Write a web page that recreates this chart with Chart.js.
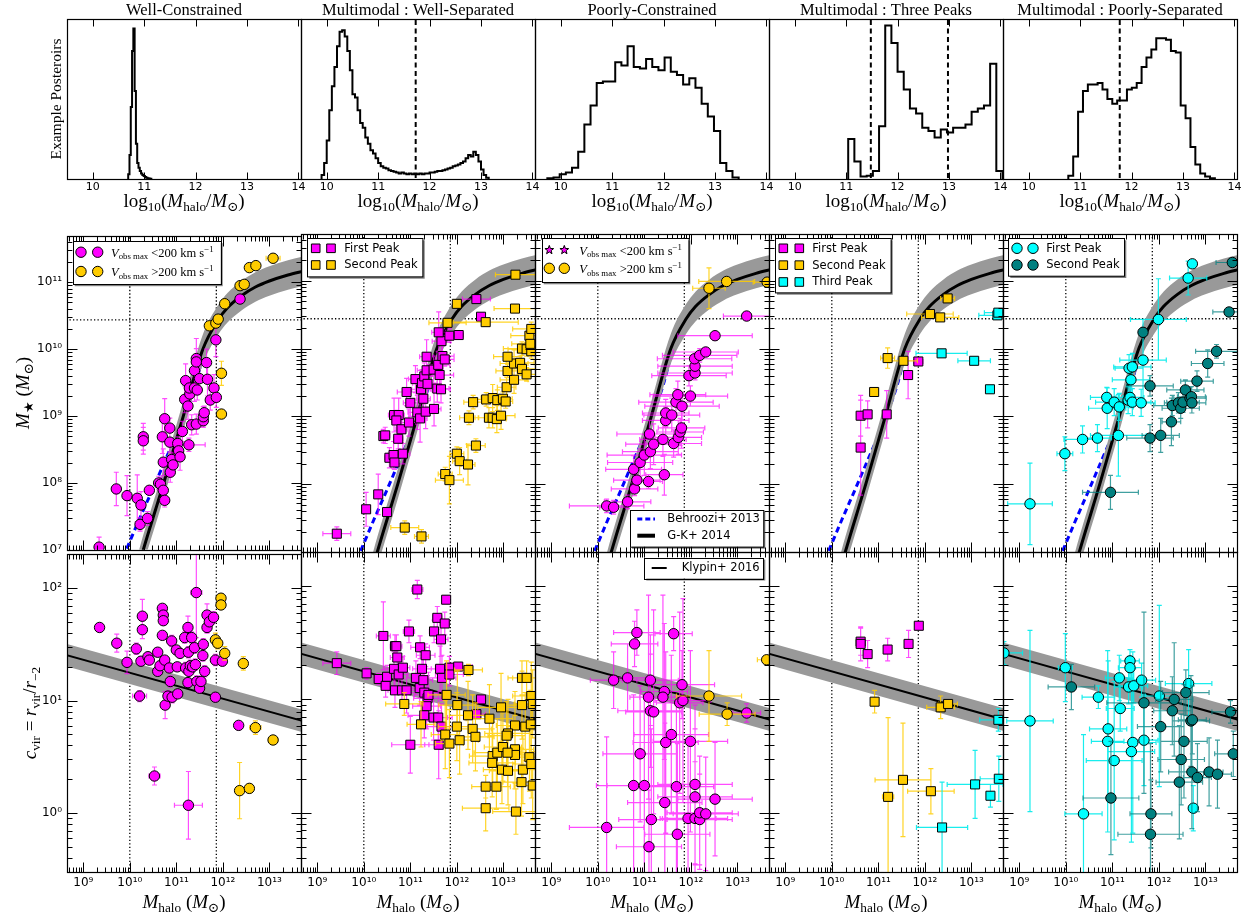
<!DOCTYPE html>
<html>
<head>
<meta charset="utf-8">
<title>Halo mass posteriors</title>
<script src="https://cdn.jsdelivr.net/npm/chart.js@4/dist/chart.umd.min.js"></script>
<style>
  body { margin: 0; background: #fff; }
  #wrap { position: relative; width: 1249px; height: 920px; overflow: hidden; }
  canvas { position: absolute; }
</style>
</head>
<body>
<div id="wrap"></div>
<script>
// ---------- top row: example posteriors (bin start, bin width, height as fraction of panel) ----------
const histWellStart = 10.69, histWellWidth = 0.025;
const histWell = [0.03, 0.15, 0.45, 0.8, 0.94, 0.55, 0.22, 0.1, 0.07, 0.05, 0.035, 0.025, 0.018, 0.012, 0.008, 0.005, 0.003, 0.002];
const histSepStart = 9.9, histSepWidth = 0.05;
const histSep = [0.025, 0.1, 0.24, 0.43, 0.58, 0.7, 0.83, 0.92, 0.93, 0.89, 0.8, 0.68, 0.53, 0.51, 0.43, 0.35, 0.32, 0.26, 0.22, 0.18,
  0.16, 0.13, 0.1, 0.08, 0.07, 0.065, 0.055, 0.05, 0.045, 0.04, 0.035, 0.04, 0.035, 0.03, 0.035, 0.03, 0.035, 0.03, 0.035, 0.03,
  0.035, 0.035, 0.04, 0.04, 0.045, 0.05, 0.05, 0.055, 0.06, 0.065, 0.07, 0.08, 0.085, 0.09, 0.1, 0.11, 0.13, 0.15, 0.14, 0.17,
  0.15, 0.11, 0.06, 0.025, 0.008];
const histPoorStart = 9.74, histPoorWidth = 0.12;
const histPoor = [0.005, 0.01, 0.03, 0.04, 0.07, 0.17, 0.34, 0.46, 0.6, 0.61, 0.61, 0.73, 0.71, 0.83, 0.7, 0.69, 0.75, 0.7, 0.68, 0.76,
  0.67, 0.65, 0.59, 0.63, 0.57, 0.47, 0.39, 0.3, 0.1, 0.05, 0.01];
const histThreeStart = 11.04, histThreeWidth = 0.12;
const histThree = [0.25, 0.11, 0.015, 0.02, 0.05, 0.33, 0.96, 0.85, 0.67, 0.56, 0.44, 0.41, 0.32, 0.3, 0.26, 0.31, 0.29, 0.32, 0.32, 0.34,
  0.42, 0.44, 0.46, 0.72, 0.05];
const histBlendStart = 10.77, histBlendWidth = 0.095;
const histBlend = [0.02, 0.14, 0.42, 0.55, 0.59, 0.59, 0.6, 0.56, 0.5, 0.47, 0.49, 0.49, 0.56, 0.57, 0.6, 0.7, 0.76, 0.81, 0.88, 0.88,
  0.87, 0.8, 0.79, 0.46, 0.38, 0.2, 0.09, 0.035, 0.015, 0.004];
const peakCutsSep = [11.73];
const peakCutsThree = [11.48, 12.98];
const peakCutsBlend = [11.77];
const topTicks = [10, 11, 12, 13, 14];

// ---------- reference relations (log10 values) ----------
const gkMh = [10.05, 10.29, 10.73, 11.15, 11.57, 11.9, 12.1, 12.4, 12.7, 13.0, 13.4, 13.75];
const gkMs = [6.4, 7.0, 8.0, 9.0, 10.0, 10.44, 10.62, 10.8, 10.93, 11.02, 11.11, 11.17];
const gkHi = [6.62, 7.22, 8.22, 9.22, 10.22, 10.66, 10.84, 11.02, 11.15, 11.24, 11.33, 11.39];
const gkLo = [6.18, 6.78, 7.78, 8.78, 9.78, 10.22, 10.4, 10.58, 10.71, 10.8, 10.89, 10.95];
const b13Mh = [9.85, 10.2, 10.5, 10.8, 11.1, 11.4, 11.6, 11.9, 12.3, 13.0, 13.75];
const b13Ms = [6.88, 7.45, 7.92, 8.4, 8.88, 9.45, 9.95, 10.42, 10.72, 11.0, 11.16];
const klMh = [8.5, 13.8];
const klC = [1.42, 0.81];
const klHi = [1.52, 0.91];
const klLo = [1.32, 0.71];
const cutMh = [10, 11.86];
const cutMs = 10.44;

// ---------- galaxies: [log Mhalo, log value, x error (dex), y error (dex)] ----------
const wellMsSlow = [
  [9.34,7.04,0,0.15],[9.71,7.91,0,0.25],[9.94,7.81,0,0.3],[10.16,7.77,0,0.35],[10.24,7.67,0,0.2],[10.22,7.38,0,0.1],
  [10.38,7.47,0,0.1],[10.42,7.89,0,0.06],[10.29,8.69,0,0.2],[10.29,8.63,0,0.2],[10.62,8.0,0.04,0.1],[10.66,7.98,0,0.1],
  [10.72,7.89,0.06,0.1],[10.75,7.74,0.1,0.1],[10.72,8.31,0,0.2],[10.7,8.69,0,0.25],[10.75,8.96,0,0.3],[10.86,8.82,0,0.15],
  [10.86,8.61,0,0.15],[10.87,8.16,0.06,0.15],[10.9,8.35,0,0.1],[10.93,8.27,0,0.12],[11.03,8.59,0,0.1],[11.05,8.48,0,0.1],
  [11.08,8.39,0.05,0.2],[11.27,8.57,0.35,0.1],[11.2,9.53,0,0.25],[11.18,9.25,0,0.2],[11.25,9.15,0,0.2],[11.29,9.33,0,0.15],
  [11.28,9.42,0,0.15],[11.33,8.87,0,0.15],[11.39,9.42,0,0.2],[11.39,9.68,0,0.2],[11.43,9.86,0,0.3],[11.43,9.81,0,0.2],
  [11.45,9.39,0,0.15],[11.5,9.56,0,0.2],[11.43,8.88,0,0.15],[11.58,8.93,0,0.1],[11.58,8.99,0,0.15],[11.6,9.05,0,0.1],
  [11.65,9.8,0,0.2],[11.67,9.55,0,0.25],[11.73,9.24,0,0.15],[11.81,9.42,0,0.2],[11.85,10.14,0,0.25],[11.86,9.28,0,0.15],
  [12.37,10.75,0,0.05],[11.13,8.77,0,0.15]
];
const wellMsFast = [
  [11.71,10.35,0,0.05],[11.85,10.39,0,0.05],[11.9,10.45,0,0.05],[12.04,10.68,0,0.07],[12.37,10.95,0,0.04],[12.46,10.97,0,0.04],
  [12.57,11.22,0,0.03],[12.71,11.25,0,0.03],[13.08,11.36,0.15,0.03],[11.97,9.64,0,0.18],[11.97,9.03,0,0.03]
];
const wellCSlow = [
  [9.35,1.65,0,0],[9.72,1.51,0,0.08],[9.94,1.34,0,0.1],[10.14,1.46,0,0.05],[10.24,1.35,0,0.03],[10.27,1.75,0,0.15],
  [10.27,1.63,0,0.08],[10.21,1.04,0.15,0.05],[10.39,1.39,0,0.03],[10.42,1.36,0,0.03],[10.6,1.43,0,0.03],[10.6,1.26,0,0.03],
  [10.65,1.31,0,0.03],[10.7,1.82,0,0.03],[10.72,1.76,0,0.03],[10.72,1.71,0,0.03],[10.7,1.58,0,0.03],[10.75,1.36,0,0.03],
  [10.76,0.96,0,0.12],[10.85,1.29,0,0.03],[10.87,1.17,0,0.05],[10.82,1.04,0,0.05],[10.9,1.53,0,0.05],[10.91,1.03,0,0.05],
  [11.0,1.45,0,0.03],[11.02,1.3,0,0.03],[11.03,1.06,0,0.03],[11.08,1.42,0,0.03],[11.18,1.56,0,0.05],[11.2,1.29,0,0.05],
  [11.25,1.65,0,0.1],[11.26,1.43,0,0.05],[11.27,1.26,0,0.03],[11.25,1.16,0,0.03],[11.3,1.31,0,0.05],[11.33,1.56,0,0.05],
  [11.35,1.3,0,0.05],[11.39,1.47,0,0.05],[11.41,1.32,0,0.05],[11.43,1.96,0.12,0.4],[11.44,1.17,0,0.05],[11.5,1.11,0,0.03],
  [11.53,1.17,0,0.05],[11.57,1.4,0,0.05],[11.58,1.5,0,0.05],[11.61,1.26,0,0.05],[11.66,1.76,0,0.1],[11.66,1.65,0,0.05],
  [11.71,1.7,0,0.05],[11.8,1.74,0,0.05],[11.84,1.36,0,0.05],[11.84,1.03,0,0.03],[11.99,1.35,0,0.03],[12.34,0.78,0.06,0.03],
  [10.53,0.33,0.12,0.08],[11.26,0.07,0.3,0.3]
];
const wellCFast = [
  [11.96,1.91,0,0.03],[11.96,1.85,0,0.03],[11.84,1.54,0,0.06],[11.89,1.51,0,0.05],[12.04,1.42,0,0.06],[12.44,1.33,0,0.06],
  [12.7,0.76,0.12,0.06],[13.08,0.65,0.1,0.03],[12.36,0.2,0,0.25],[12.57,0.22,0,0.04]
];
const sepMsFirst = [
  [9.42,7.27,0.3,0.1],[10.05,7.63,0.07,0.25],[10.31,7.85,0.05,0.3],[10.5,7.59,0,0.05],[10.42,8.71,0.07,0.1],[10.46,8.72,0.1,0.12],
  [10.55,8.39,0.1,0.15],[10.64,8.43,0.12,0.2],[10.66,8.32,0.1,0.1],[10.65,9.02,0.12,0.25],[10.75,9.02,0.12,0.25],[10.7,8.94,0.1,0.15],
  [10.74,8.67,0.1,0.15],[10.81,8.81,0.12,0.2],[10.84,8.45,0.15,0.15],[10.92,9.36,0.2,0.2],[10.97,8.91,0.15,0.2],[11.0,9.2,0.15,0.2],
  [11.11,9.55,0.15,0.2],[11.15,9.06,0.2,0.25],[11.21,8.97,0.15,0.35],[11.23,9.4,0.2,0.2],[11.28,9.26,0.15,0.25],[11.25,9.49,0.2,0.2],
  [11.3,9.59,0.2,0.2],[11.35,9.68,0.2,0.2],[11.35,9.88,0.15,0.25],[11.37,9.48,0.2,0.25],[11.33,9.07,0.15,0.25],[11.5,9.69,0.2,0.2],
  [11.51,9.11,0.15,0.25],[11.58,9.41,0.25,0.2],[11.6,9.76,0.25,0.2],[11.63,9.61,0.3,0.2],[11.66,9.4,0.2,0.2],[11.69,9.89,0.25,0.15],
  [11.74,9.84,0.2,0.1],[11.67,10.11,0.2,0.15],[11.61,10.24,0.15,0.3],[11.84,10.19,0.2,0.1],[12.04,10.2,0.1,0.03],
  [12.42,10.73,0.3,0.04],[12.52,10.47,0,0.03]
];
const sepMsSecond = [
  [10.88,7.36,0.3,0.1],[11.24,7.23,0.15,0.1],[11.75,8.15,0.15,0.1],[11.84,8.06,0.3,0.35],[12.0,8.45,0.15,0.1],[12.06,8.34,0.15,0.2],
  [12.24,8.29,0.15,0.3],[12.41,8.57,0.2,0.1],[12.26,8.98,0.2,0.1],[12.35,9.21,0.2,0.1],[12.63,9.25,0.2,0.1],[12.77,9.27,0.25,0.2],
  [12.87,9.24,0.25,0.15],[12.99,9.26,0.2,0.1],[13.05,9.22,0.15,0.1],[12.69,8.98,0.3,0.15],[12.77,8.98,0.3,0.15],[12.86,8.96,0.2,0.2],
  [12.95,9.01,0.3,0.2],[13.07,9.43,0.2,0.15],[13.23,9.54,0.3,0.2],[13.09,9.67,0.25,0.1],[13.23,9.78,0.3,0.2],[13.36,9.79,0.3,0.1],
  [13.4,9.7,0.3,0.1],[13.5,9.62,0.2,0.1],[13.09,9.88,0.3,0.05],[13.4,10.0,0.4,0.1],[13.5,9.99,0.4,0.1],[13.6,9.96,0.3,0.1],
  [13.56,10.19,0.4,0.1],[13.6,10.29,0.4,0.1],[13.58,10.07,0.4,0.1],[11.8,10.38,0.4,0.03],[12.0,10.66,0,0.03],
  [12.62,10.39,0.7,0.03],[13.25,10.59,0.45,0.03],[13.26,11.09,0.43,0.03]
];
const sepCFirst = [
  [9.42,1.32,0.3,0.1],[10.06,1.23,0.05,0.05],[10.32,1.18,0.1,0.05],[10.42,1.56,0.15,0.3],[10.47,1.12,0.1,0.1],[10.5,1.2,0.15,0.1],
  [10.65,1.27,0.2,0.15],[10.67,1.47,0.1,0.1],[10.7,1.47,0.12,0.1],[10.72,1.37,0.15,0.1],[10.75,1.22,0.2,0.15],[10.84,1.28,0.15,0.1],
  [10.67,1.08,0.15,0.15],[10.82,1.08,0.2,0.15],[10.92,1.08,0.2,0.2],[10.97,1.6,0.12,0.1],[11.15,1.97,0.12,0.08],[11.21,1.46,0.2,0.1],
  [11.25,1.27,0.2,0.15],[11.33,1.39,0.2,0.1],[11.12,1.19,0.2,0.15],[11.2,1.1,0.2,0.15],[11.28,1.17,0.2,0.2],[11.3,1.06,0.3,0.2],
  [11.37,1.01,0.3,0.2],[11.35,0.94,0.3,0.2],[11.3,0.86,0.35,0.2],[11.39,1.04,0.3,0.2],[11.51,1.6,0.1,0.1],[11.58,1.72,0.1,0.1],
  [11.66,1.53,0.15,0.15],[11.74,1.67,0.1,0.1],[11.77,1.88,0.05,0.03],[11.64,1.27,0.3,0.2],[11.68,1.19,0.3,0.2],[11.84,1.28,0.3,0.1],
  [11.84,1.22,0.3,0.1],[12.03,1.29,0.3,0.03],[11.5,0.84,0.3,0.2],[11.6,0.84,0.3,0.2],[11.67,0.76,0.3,0.2],[11.61,0.6,0.3,0.3],
  [11.0,0.6,0.4,0.25],[12.52,1.0,0.1,0.03],[12.42,0.87,0.2,0.03]
];
const sepCSecond = [
  [10.87,0.96,0.4,0.1],[11.23,0.78,0.3,0.2],[11.78,1.04,0.4,0.3],[11.75,0.69,0.3,0.3],[11.84,0.61,0.3,0.3],[12.01,0.95,0.4,0.3],
  [12.0,0.76,0.4,0.3],[12.06,0.64,0.4,0.3],[12.24,0.86,0.4,0.3],[12.34,0.74,0.4,0.3],[12.4,0.67,0.4,0.3],[12.25,1.26,0.3,0.05],
  [12.7,0.83,0.5,0.3],[12.95,0.93,0.5,0.3],[13.25,0.77,0.4,0.3],[13.1,0.7,0.5,0.3],[13.07,0.68,0.4,0.3],[13.4,1.19,0.3,0.15],
  [13.5,1.19,0.3,0.15],[13.4,0.95,0.4,0.3],[13.47,0.76,0.4,0.3],[13.6,1.03,0.4,0.3],[13.63,0.96,0.4,0.3],[13.59,0.78,0.4,0.3],
  [12.77,0.5,0.5,0.3],[12.76,0.44,0.5,0.3],[12.87,0.53,0.5,0.3],[12.99,0.58,0.4,0.3],[12.97,0.38,0.4,0.3],[13.1,0.37,0.4,0.3],
  [13.25,0.56,0.4,0.3],[13.25,0.51,0.4,0.3],[13.09,0.53,0.4,0.3],[13.42,0.38,0.4,0.3],[13.39,0.27,0.4,0.3],[13.56,0.49,0.4,0.3],
  [13.6,0.43,0.4,0.3],[13.63,0.24,0.4,0.3],[12.62,0.23,0.3,0.1],[12.85,0.23,0.3,0.2],[12.62,0.04,0.5,0.2],[13.27,0.01,0.5,0.2]
];
const poorMsSlow = [
  [10.19,7.68,0.8,0.1],[10.34,7.66,0.3,0.1],[10.64,7.74,0.5,0.1],[10.79,7.93,0.5,0.1],[10.84,8.06,0.5,0.15],[10.77,8.22,0.6,0.2],
  [10.91,8.32,0.7,0.2],[11.0,8.43,0.8,0.3],[11.13,8.48,0.6,0.25],[11.2,8.59,0.6,0.3],[11.11,8.74,0.7,0.2],[11.09,8.04,0.3,0.1],
  [11.43,8.14,0.4,0.3],[11.4,8.66,0.5,0.25],[11.63,8.6,0.6,0.2],[11.73,8.69,0.5,0.25],[11.77,8.77,0.5,0.2],[11.8,8.83,0.5,0.3],
  [11.46,8.94,0.5,0.2],[11.46,9.05,0.5,0.2],[11.59,9.02,0.6,0.25],[11.68,9.21,0.8,0.2],[11.72,9.32,0.6,0.2],[11.81,9.15,0.8,0.2],
  [11.99,9.3,0.8,0.15],[11.96,9.6,0.8,0.15],[12.09,9.64,0.8,0.1],[12.09,9.74,0.8,0.1],[12.08,9.85,0.8,0.1],[12.19,9.9,0.8,0.1],
  [12.32,9.95,0.7,0.05],[12.52,10.19,0.8,0.03],[13.2,10.48,0.5,0.03]
];
const poorMsFast = [[12.39,10.89,0.35,0.3],[12.77,10.99,0.6,0.05],[13.64,10.98,0.3,0.03]];
const poorCSlow = [
  [10.19,-0.13,0.8,0.8],[10.34,1.17,0.5,0.25],[10.64,1.19,0.4,0.3],[10.79,1.49,0.5,0.2],[10.84,1.59,0.5,0.2],[10.77,0.24,0.8,0.8],
  [10.91,0.52,0.8,0.6],[11.0,0.24,0.8,0.8],[11.13,1.17,0.6,0.4],[11.09,1.02,0.4,0.9],[11.13,0.9,0.7,0.5],[11.2,0.89,0.6,0.9],
  [11.15,-0.06,0.7,0.8],[11.1,-0.3,0.7,0.5],[11.43,1.07,0.5,0.6],[11.4,1.02,0.5,0.9],[11.46,0.62,0.7,0.8],[11.44,0.09,0.8,0.7],
  [11.58,0.69,0.8,0.7],[11.63,1.58,0.4,0.15],[11.69,0.23,0.8,0.8],[11.71,-0.19,0.7,0.8],[11.76,0.97,0.5,0.8],[11.81,1.13,0.7,0.3],
  [11.83,0.99,0.6,0.9],[11.94,-0.05,0.6,0.7],[11.99,0.63,0.8,0.8],[12.09,0.25,0.8,0.7],[12.09,0.14,0.8,0.6],[12.09,-0.05,0.7,0.5],
  [12.19,-0.06,0.7,0.4],[12.19,0.0,0.7,0.5],[12.32,-0.01,0.7,0.5],[12.52,0.12,0.8,0.5],[13.2,0.88,0.3,0.08]
];
const poorCFast = [[12.39,1.03,0.7,0.4],[12.78,0.87,0.6,0.1],[13.63,1.35,0.2,0.03]];
const threeMsFirst = [[10.62,9.01,0,0.3],[10.77,9.03,0,0.2],[10.62,8.54,0,0.7],[11.18,9.03,0,0.35],[11.64,9.61,0,0.35],[11.86,9.81,0.1,0.05]];
const threeMsSecond = [[10.91,9.36,0,0.05],[11.2,9.86,0.15,0.15],[11.54,9.82,0.3,0.05],[12.11,10.51,0.5,0.05],[12.33,10.46,0.4,0.05],[12.49,10.74,0.15,0.03]];
const threeMsThird = [[12.36,9.93,0.55,0.03],[13.06,9.82,0.35,0.03],[13.4,9.4,0,0],[13.56,10.49,0.4,0.03],[13.58,10.53,0.3,0.03]];
const threeCFirst = [[10.62,1.51,0,0.12],[10.62,1.49,0,0.15],[10.77,1.4,0,0.12],[11.2,1.44,0,0.1],[11.65,1.49,0,0.12],[11.87,1.65,0,0]];
const threeCSecond = [[10.92,0.98,0,0.1],[11.21,0.14,0.12,0.7],[11.53,0.29,0.6,0.5],[12.13,0.19,0.5,0.2],[12.34,0.93,0.3,0.1],[12.5,0.96,0.2,0.03]];
const threeCThird = [[12.37,-0.13,0.55,0.4],[13.08,0.25,0.6,0.3],[13.41,0.15,0.08,0.1],[13.59,0.3,0.4,0.2],[13.58,0.82,0.4,0.1]];
const blendMsFirst = [
  [9.23,7.71,0.48,0.6],[9.98,8.45,0.17,0.25],[10.36,8.66,0.4,0.2],[10.68,8.68,0.3,0.2],[11.13,8.72,0.6,0.6],[10.88,9.28,0.35,0.15],
  [10.89,9.12,0.4,0.3],[11.04,9.21,0.4,0.2],[11.15,9.14,0.3,0.2],[11.34,9.24,0.3,0.2],[11.38,9.28,0.3,0.15],[11.43,9.21,0.4,0.2],
  [11.62,9.2,0.3,0.2],[11.4,9.54,0.4,0.2],[11.36,9.71,0.3,0.2],[11.43,9.73,0.4,0.2],[11.66,9.83,0.5,0.6],[11.99,10.43,0.6,0.6],
  [12.63,11.04,0.4,0.25],[12.72,11.25,0,0]
];
const blendMsSecond = [
  [10.96,7.88,0.6,0.25],[11.81,8.68,0.5,0.2],[12.04,8.72,0.4,0.25],[12.27,8.92,0.2,0.35],[12.29,9.16,0.4,0.15],[12.42,9.2,0.3,0.15],
  [12.47,9.12,0.4,0.15],[12.52,9.21,0.35,0.15],[12.57,9.39,0.4,0.15],[12.67,9.27,0.35,0.15],[12.7,9.29,0.3,0.15],[12.71,9.2,0.3,0.15],
  [12.82,9.52,0.35,0.15],[13.05,9.78,0.35,0.2],[13.24,9.96,0.45,0.1],[11.81,9.45,0.5,0.15],[11.66,10.24,0,0.05],
  [13.51,10.54,0.35,0.03],[13.58,11.27,0.35,0.03]
];
const blendCFirst = [
  [8.67,1.41,0.4,0.1],[9.23,0.81,0.5,0.8],[9.99,1.28,0.15,0.3],[10.38,-0.01,0.4,0.7],[10.7,1.02,0.35,0.1],[10.91,0.74,0.4,0.6],
  [10.9,0.63,0.35,0.8],[11.04,0.46,0.6,0.7],[11.15,1.19,0.3,0.2],[11.17,0.92,0.3,0.2],[11.35,1.11,0.3,0.15],[11.38,1.34,0.2,0.1],
  [11.38,1.28,0.25,0.1],[11.46,1.12,0.3,0.15],[11.44,0.62,0.5,0.8],[11.41,0.54,0.5,0.8],[11.63,1.17,0.3,0.15],[11.68,0.64,0.3,0.4],
  [12.01,1.03,0.3,0.8],[12.64,1.14,0.5,0.3],[12.74,0.04,0.1,0.2]
];
const blendCSecond = [
  [10.12,1.11,0.5,0.2],[10.97,0.13,0.6,0.5],[11.68,0.97,0.8,0.8],[11.83,-0.01,0.45,0.3],[11.82,-0.19,0.7,0.8],[12.04,0.76,0.5,0.4],
  [12.29,0.9,0.4,0.3],[12.33,1.0,0.4,0.5],[12.58,1.06,0.5,0.2],[12.54,0.63,0.5,0.5],[12.48,0.47,0.5,0.4],[12.44,0.27,0.5,0.5],
  [12.69,0.81,0.4,0.4],[12.72,0.82,0.3,0.3],[12.71,0.36,0.5,0.5],[12.83,0.31,0.3,0.3],[13.08,0.36,0.3,0.3],[13.26,0.34,0.3,0.3],
  [13.54,0.89,0.4,0.1],[13.6,0.52,0.4,0.2]
];

// axis ranges (log10) and labelled decades
const MH_LIM = [8.65, 13.68], MS_LIM = [7, 11.69], C_LIM = [-0.523, 2.301], TOP_LIM = [9.5, 14.05];
const massExp = [9, 10, 11, 12, 13], starExp = [7, 8, 9, 10, 11], concExp = [0, 1, 2];

// ---------- layout & style ----------
const wrap = document.getElementById('wrap');
const COL_L = [67, 301, 535, 769, 1003], COL_W = 234;
const ROW_T = [19, 234, 552], ROW_H = [160, 318, 320];
const ML = 66, MR = 12, MT = [19, 10, 10], MB = [40, 10, 48];
const SERIF = '"Liberation Serif", "DejaVu Serif", serif';
const SANS = '"DejaVu Sans", sans-serif';
const MAG = '#ff00ff', GOLD = '#ffcc00', CYAN = '#00ffff', TEAL = '#008080';
const ERR = {[MAG]: 'rgba(255,0,255,0.7)', [GOLD]: 'rgba(255,204,0,0.85)', [CYAN]: 'rgba(0,235,235,0.9)', [TEAL]: 'rgba(0,128,128,0.75)'};

const SUP = '⁰¹²³⁴⁵⁶⁷⁸⁹';
const pow10Label = v => {
  const e = Math.round(Math.log10(v));
  return '10' + (e < 0 ? '⁻' : '') + String(Math.abs(e)).split('').map(d => SUP[+d]).join('');
};
const minorLog = (lo, hi) => {
  const out = [];
  for (let d = Math.floor(lo); d <= Math.ceil(hi); d++)
    for (let k = 2; k <= 9; k++) { const v = d + Math.log10(k); if (v > lo && v < hi) out.push(10 ** v); }
  return out;
};

function fontFor(k, size, fam) {
  const small = k.includes('b') || k.includes('p');
  return (k.includes('i') ? 'italic ' : '') + (small ? size * 0.7 : size).toFixed(1) + 'px ' + (fam || SERIF);
}
// draws text made of roman / italic / sub / sup pieces
function drawRich(ctx, parts, x, y, size, align, fam) {
  const ws = parts.map(([t, k]) => { ctx.font = fontFor(k, size, fam); return ctx.measureText(t).width; });
  let cx = align === 'center' ? x - ws.reduce((a, b) => a + b, 0) / 2 : x;
  ctx.textAlign = 'left'; ctx.textBaseline = 'alphabetic';
  parts.forEach(([t, k], i) => {
    ctx.font = fontFor(k, size, fam);
    const dy = k.includes('b') ? size * 0.22 : (k.includes('p') ? -size * 0.4 : 0);
    ctx.fillText(t, cx, y + dy);
    cx += ws[i];
  });
}

function drawMarker(ctx, m, x, y) {
  ctx.save();
  ctx.fillStyle = m.color; ctx.strokeStyle = '#000'; ctx.lineWidth = 1;
  ctx.beginPath();
  if (m.shape === 'circle') ctx.arc(x, y, 5.2, 0, Math.PI * 2);
  else if (m.shape === 'rect') ctx.rect(x - 4.3, y - 4.3, 8.6, 8.6);
  else {
    for (let i = 0; i < 10; i++) {
      const r = i % 2 ? 1.9 : 4.6, t = -Math.PI / 2 + i * Math.PI / 5;
      ctx.lineTo(x + r * Math.cos(t), y + r * Math.sin(t));
    }
    ctx.closePath();
  }
  ctx.fill(); ctx.stroke();
  ctx.restore();
}

// ---------- plugins ----------
const errorBars = {
  id: 'errorBars',
  beforeDatasetDraw(chart, args) {
    const ds = chart.data.datasets[args.index];
    if (!ds.errs) return;
    const {ctx, chartArea: a, scales: {x, y}} = chart;
    const cap = 2.5;
    ctx.save();
    ctx.beginPath(); ctx.rect(a.left, a.top, a.right - a.left, a.bottom - a.top); ctx.clip();
    ctx.strokeStyle = ds.errColor; ctx.lineWidth = 1.2;
    ctx.beginPath();
    ds.errs.forEach(([m, v, ex, ey]) => {
      const px = x.getPixelForValue(10 ** m), py = y.getPixelForValue(10 ** v);
      if (ex > 0) {
        const x0 = x.getPixelForValue(10 ** (m - ex)), x1 = x.getPixelForValue(10 ** (m + ex));
        ctx.moveTo(x0, py); ctx.lineTo(x1, py);
        ctx.moveTo(x0, py - cap); ctx.lineTo(x0, py + cap);
        ctx.moveTo(x1, py - cap); ctx.lineTo(x1, py + cap);
      }
      if (ey > 0) {
        const y0 = y.getPixelForValue(10 ** (v - ey)), y1 = y.getPixelForValue(10 ** (v + ey));
        ctx.moveTo(px, y0); ctx.lineTo(px, y1);
        ctx.moveTo(px - cap, y0); ctx.lineTo(px + cap, y0);
        ctx.moveTo(px - cap, y1); ctx.lineTo(px + cap, y1);
      }
    });
    ctx.stroke();
    ctx.restore();
  }
};

function framePlugin(t) {
  return {
    id: 'frame',
    afterDatasetsDraw(chart) {
      const {ctx, chartArea: a, scales: {x, y}} = chart;
      const L = Math.round(a.left) + 0.5, R = Math.round(a.right) + 0.5, T = Math.round(a.top) + 0.5, B = Math.round(a.bottom) + 0.5;
      ctx.save();
      ctx.strokeStyle = '#000'; ctx.lineWidth = 1;
      ctx.beginPath();
      const vx = (vals, len) => vals.forEach(v => {
        const p = Math.round(x.getPixelForValue(v)) + 0.5;
        if (p < L || p > R) return;
        ctx.moveTo(p, B); ctx.lineTo(p, B - len); ctx.moveTo(p, T); ctx.lineTo(p, T + len);
      });
      const vy = (vals, len) => vals.forEach(v => {
        const p = Math.round(y.getPixelForValue(v)) + 0.5;
        if (p < T || p > B) return;
        ctx.moveTo(L, p); ctx.lineTo(L + len, p); ctx.moveTo(R, p); ctx.lineTo(R - len, p);
      });
      vx(t.xMaj, t.major); vx(t.xMin, t.minor); vy(t.yMaj, t.major); vy(t.yMin, t.minor);
      ctx.stroke();
      ctx.lineWidth = 1.2;
      ctx.strokeRect(L, T, R - L, B - T);
      ctx.restore();
    }
  };
}

function legendPlugin(boxes) {
  return {
    id: 'boxLegend',
    afterDatasetsDraw(chart) {
      const {ctx, chartArea: a} = chart;
      boxes.forEach(b => {
        const x0 = a.left + b.x, y0 = a.top + b.y;
        ctx.save();
        ctx.fillStyle = 'rgba(0,0,0,0.5)'; ctx.fillRect(x0 + 2, y0 + 2, b.w, b.h);
        ctx.fillStyle = '#fff'; ctx.fillRect(x0, y0, b.w, b.h);
        ctx.strokeStyle = '#000'; ctx.lineWidth = 1; ctx.strokeRect(Math.round(x0) + 0.5, Math.round(y0) + 0.5, b.w, b.h);
        b.rows.forEach((r, i) => {
          const cy = y0 + b.row0 + i * b.rowH;
          if (r.line) {
            ctx.save();
            ctx.strokeStyle = r.line.color; ctx.lineWidth = r.line.width; ctx.setLineDash(r.line.dash || []);
            ctx.beginPath(); ctx.moveTo(x0 + b.lx[0], cy); ctx.lineTo(x0 + b.lx[1], cy); ctx.stroke();
            ctx.restore();
          } else {
            b.mx.forEach(mx => drawMarker(ctx, r.marker, x0 + mx, cy));
          }
          ctx.fillStyle = '#000';
          if (r.parts) drawRich(ctx, r.parts, x0 + b.tx, cy + 4.5, 12.5, 'left');
          else {
            ctx.font = '11.5px ' + SANS; ctx.textAlign = 'left'; ctx.textBaseline = 'middle';
            ctx.fillText(r.label, x0 + b.tx, cy + 0.5);
          }
        });
        ctx.restore();
      });
    }
  };
}

function textPlugin(items) {
  return {
    id: 'richTexts',
    afterDraw(chart) {
      const {ctx, chartArea: a} = chart;
      const mx = (a.left + a.right) / 2, my = (a.top + a.bottom) / 2;
      items.forEach(t => {
        ctx.save();
        ctx.fillStyle = '#000';
        if (t.at === 'top') drawRich(ctx, t.parts, mx, a.top - t.off, t.size, 'center');
        else if (t.at === 'bottom') drawRich(ctx, t.parts, mx, a.bottom + t.off, t.size, 'center');
        else { ctx.translate(a.left - t.off, my); ctx.rotate(-Math.PI / 2); drawRich(ctx, t.parts, 0, 0, t.size, 'center'); }
        ctx.restore();
      });
    }
  };
}

// ---------- dataset builders ----------
const logLine = (mh, vals, extra) => Object.assign({
  data: mh.map((m, i) => ({x: 10 ** m, y: 10 ** vals[i]})),
  pointRadius: 0, borderWidth: 2, borderColor: '#000', fill: false, tension: 0
}, extra);
const vline = (v, lim) => logLine([v, v], [lim[0] - 1, lim[1] + 1], {borderWidth: 1.3, borderDash: [1.3, 2.2], order: 100});
const hline = (v, lim) => logLine([lim[0] - 1, lim[1] + 1], [v, v], {borderWidth: 1.3, borderDash: [1.3, 2.2], order: 100});
const galaxies = (arr, color, shape, order) => ({
  data: arr.map(p => ({x: 10 ** p[0], y: 10 ** p[1]})),
  errs: arr, errColor: ERR[color], showLine: false,
  pointStyle: shape, pointRadius: shape === 'rect' ? 6.4 : 5.2, pointBorderWidth: 1,
  pointBackgroundColor: color, pointBorderColor: '#000', backgroundColor: color, borderColor: '#000', order
});
function stepPath(start, width, h) {
  const pts = [{x: start, y: 0}];
  h.forEach((v, i) => pts.push({x: start + i * width, y: v}, {x: start + (i + 1) * width, y: v}));
  pts.push({x: start + h.length * width, y: 0});
  return pts;
}

function axis(o, fit) {
  return {
    type: o.type, min: o.min, max: o.max, position: o.pos,
    grid: {display: false, drawTicks: false}, border: {display: false},
    ticks: {display: !!o.labels, font: {family: SANS, size: o.size || 10.5}, color: '#000', padding: o.pad || 3,
            maxRotation: 0, autoSkip: false, callback: o.fmt},
    afterBuildTicks: s => { s.ticks = o.ticks.map(v => ({value: v})); },
    afterFit: fit
  };
}

function makePanel(row, col, datasets, xOpt, yOpt, ticks, legends, texts) {
  const c = document.createElement('canvas');
  const w = ML + COL_W + MR, h = MT[row] + ROW_H[row] + MB[row];
  c.width = w; c.height = h;
  c.style.left = (COL_L[col] - ML) + 'px';
  c.style.top = (ROW_T[row] - MT[row]) + 'px';
  wrap.appendChild(c);
  return new Chart(c, {
    type: 'line',
    data: {datasets},
    options: {
      responsive: false, animation: false, devicePixelRatio: 1, events: [],
      layout: {padding: {top: MT[row], right: MR, left: 0, bottom: 0}},
      datasets: {line: {clip: 0}},
      plugins: {legend: {display: false}, tooltip: {enabled: false}},
      scales: {
        x: axis(xOpt, s => { s.height = MB[row]; }),
        y: axis(yOpt, s => { s.width = ML; })
      }
    },
    plugins: [errorBars, framePlugin(ticks), legendPlugin(legends), textPlugin(texts)]
  });
}

// ---------- text pieces ----------
const LOG_LABEL = [['log', 'r'], ['10', 'b'], ['(', 'r'], ['M', 'i'], ['halo', 'b'], ['/', 'r'], ['M', 'i'], ['⊙', 'b'], [')', 'r']];
const MH_LABEL = [['M', 'i'], ['halo', 'b'], [' (', 'r'], ['M', 'i'], ['⊙', 'b'], [')', 'r']];
const MS_LABEL = [['M', 'i'], ['★', 'b'], [' (', 'r'], ['M', 'i'], ['⊙', 'b'], [')', 'r']];
const C_LABEL = [['c', 'i'], ['vir', 'b'], [' = ', 'r'], ['r', 'i'], ['vir', 'b'], ['/', 'r'], ['r', 'i'], ['−2', 'b']];
const V_SLOW = [['V', 'i'], ['obs max', 'b'], [' <200 km s', 'r'], ['−1', 'p']];
const V_FAST = [['V', 'i'], ['obs max', 'b'], [' >200 km s', 'r'], ['−1', 'p']];

// ---------- top row ----------
const topPanels = [
  ['Well-Constrained', histWellStart, histWellWidth, histWell, []],
  ['Multimodal : Well-Separated', histSepStart, histSepWidth, histSep, peakCutsSep],
  ['Poorly-Constrained', histPoorStart, histPoorWidth, histPoor, []],
  ['Multimodal : Three Peaks', histThreeStart, histThreeWidth, histThree, peakCutsThree],
  ['Multimodal : Poorly-Separated', histBlendStart, histBlendWidth, histBlend, peakCutsBlend]
];
topPanels.forEach(([title, start, width, h, cuts], col) => {
  const ds = [{data: stepPath(start, width, h), borderColor: '#000', borderWidth: 2, pointRadius: 0, tension: 0, fill: false}];
  cuts.forEach(cx => ds.push({data: [{x: cx, y: -0.1}, {x: cx, y: 1.1}], borderColor: '#000', borderWidth: 2,
                             borderDash: [5, 3.5], pointRadius: 0}));
  const texts = [{at: 'top', off: 4, size: 16.5, parts: [[title, 'r']]}, {at: 'bottom', off: 28, size: 19, parts: LOG_LABEL}];
  if (col === 0) texts.push({at: 'left', off: 6, size: 15.5, parts: [['Example Posteroirs', 'r']]});
  makePanel(0, col, ds,
    {type: 'linear', min: TOP_LIM[0], max: TOP_LIM[1], pos: 'bottom', labels: true, pad: 2, size: 11, ticks: topTicks, fmt: v => String(v)},
    {type: 'linear', min: 0, max: 1, pos: 'left', labels: false, ticks: [], fmt: v => ''},
    {xMaj: topTicks, xMin: [], yMaj: [], yMin: [], major: 7, minor: 4},
    [], texts);
});

// ---------- middle row: stellar mass ----------
const xLog = (labels, pad) => ({type: 'logarithmic', min: 10 ** MH_LIM[0], max: 10 ** MH_LIM[1], pos: 'bottom', labels, pad, size: 12,
                                ticks: massExp.map(e => 10 ** e), fmt: pow10Label});
const msTicks = {xMaj: massExp.map(e => 10 ** e), xMin: minorLog(MH_LIM[0], MH_LIM[1]),
                 yMaj: starExp.map(e => 10 ** e), yMin: minorLog(MS_LIM[0], MS_LIM[1]), major: 10, minor: 5};
const cTicks = {xMaj: massExp.map(e => 10 ** e), xMin: minorLog(MH_LIM[0], MH_LIM[1]),
                yMaj: concExp.map(e => 10 ** e), yMin: minorLog(C_LIM[0], C_LIM[1]), major: 10, minor: 5};

const midSeries = [
  [galaxies(wellMsSlow, MAG, 'circle', 52), galaxies(wellMsFast, GOLD, 'circle', 51)],
  [galaxies(sepMsFirst, MAG, 'rect', 52), galaxies(sepMsSecond, GOLD, 'rect', 51)],
  [galaxies(poorMsSlow, MAG, 'circle', 52), galaxies(poorMsFast, GOLD, 'circle', 51)],
  [galaxies(threeMsFirst, MAG, 'rect', 52), galaxies(threeMsSecond, GOLD, 'rect', 51), galaxies(threeMsThird, CYAN, 'rect', 50)],
  [galaxies(blendMsFirst, CYAN, 'circle', 52), galaxies(blendMsSecond, TEAL, 'circle', 51)]
];
const midLegends = [
  [{x: 5.7, y: 5, w: 148, h: 43, row0: 11, rowH: 19.3, mx: [8.3, 25], tx: 38.3,
    rows: [{marker: {shape: 'circle', color: MAG}, parts: V_SLOW}, {marker: {shape: 'circle', color: GOLD}, parts: V_FAST}]}],
  [{x: 6.3, y: 4.3, w: 115.4, h: 38.4, row0: 10, rowH: 16.7, mx: [8.4, 23.7], tx: 37,
    rows: [{marker: {shape: 'rect', color: MAG}, label: 'First Peak'}, {marker: {shape: 'rect', color: GOLD}, label: 'Second Peak'}]}],
  [{x: 6.7, y: 4.3, w: 146.6, h: 44, row0: 11.7, rowH: 18.3, mx: [7.6, 22.6], tx: 37.6,
    rows: [{marker: {shape: 'star', color: MAG}, parts: V_SLOW}, {marker: {shape: 'circle', color: GOLD}, parts: V_FAST}]},
   {x: 95, y: 276, w: 133.3, h: 36.7, row0: 9, rowH: 16.7, lx: [7.3, 25], tx: 37.3,
    rows: [{line: {color: '#0000ff', width: 3, dash: [5, 3]}, label: 'Behroozi+ 2013'}, {line: {color: '#000', width: 4}, label: 'G-K+ 2014'}]}],
  [{x: 6, y: 4.3, w: 115.7, h: 54.4, row0: 10, rowH: 16.85, mx: [8.3, 24.3], tx: 37.3,
    rows: [{marker: {shape: 'rect', color: MAG}, label: 'First Peak'}, {marker: {shape: 'rect', color: GOLD}, label: 'Second Peak'},
           {marker: {shape: 'rect', color: CYAN}, label: 'Third Peak'}]}],
  [{x: 5.3, y: 4.3, w: 116, h: 37.7, row0: 10, rowH: 16.7, mx: [8.7, 24.7], tx: 38,
    rows: [{marker: {shape: 'circle', color: CYAN}, label: 'First Peak'}, {marker: {shape: 'circle', color: TEAL}, label: 'Second Peak'}]}]
];
midSeries.forEach((series, col) => {
  const ds = [
    vline(cutMh[0], MS_LIM), vline(cutMh[1], MS_LIM), hline(cutMs, MH_LIM),
    logLine(b13Mh, b13Ms, {borderColor: '#0000ff', borderWidth: 3, borderDash: [6, 4], cubicInterpolationMode: 'monotone', order: 95}),
    logLine(gkMh, gkHi, {borderColor: 'rgba(0,0,0,0)', borderWidth: 0, backgroundColor: '#999999', fill: '+1', cubicInterpolationMode: 'monotone', order: 90}),
    logLine(gkMh, gkLo, {borderColor: 'rgba(0,0,0,0)', borderWidth: 0, cubicInterpolationMode: 'monotone', order: 91}),
    logLine(gkMh, gkMs, {borderWidth: 3, cubicInterpolationMode: 'monotone', order: 80}),
    ...series
  ];
  const texts = col === 0 ? [{at: 'left', off: 38, size: 19, parts: MS_LABEL}] : [];
  makePanel(1, col, ds, xLog(false),
    {type: 'logarithmic', min: 10 ** MS_LIM[0], max: 10 ** MS_LIM[1], pos: 'left', labels: col === 0, pad: 5, size: 12,
     ticks: starExp.map(e => 10 ** e), fmt: pow10Label},
    msTicks, midLegends[col], texts);
});

// ---------- bottom row: concentration ----------
const botSeries = [
  [galaxies(wellCSlow, MAG, 'circle', 52), galaxies(wellCFast, GOLD, 'circle', 51)],
  [galaxies(sepCFirst, MAG, 'rect', 52), galaxies(sepCSecond, GOLD, 'rect', 51)],
  [galaxies(poorCSlow, MAG, 'circle', 52), galaxies(poorCFast, GOLD, 'circle', 51)],
  [galaxies(threeCFirst, MAG, 'rect', 52), galaxies(threeCSecond, GOLD, 'rect', 51), galaxies(threeCThird, CYAN, 'rect', 50)],
  [galaxies(blendCFirst, CYAN, 'circle', 52), galaxies(blendCSecond, TEAL, 'circle', 51)]
];
botSeries.forEach((series, col) => {
  const ds = [
    vline(cutMh[0], C_LIM), vline(cutMh[1], C_LIM),
    logLine(klMh, klHi, {borderColor: 'rgba(0,0,0,0)', borderWidth: 0, backgroundColor: '#999999', fill: '+1', order: 90}),
    logLine(klMh, klLo, {borderColor: 'rgba(0,0,0,0)', borderWidth: 0, order: 91}),
    logLine(klMh, klC, {borderWidth: 2, order: 80}),
    ...series
  ];
  const texts = [{at: 'bottom', off: 36, size: 19, parts: MH_LABEL}];
  if (col === 0) texts.push({at: 'left', off: 31, size: 19, parts: C_LABEL});
  const legends = col === 2 ? [{x: 109.3, y: 5.5, w: 119, h: 21, row0: 10.5, rowH: 0, lx: [7.4, 22.4], tx: 37.4,
                                rows: [{line: {color: '#000', width: 2}, label: 'Klypin+ 2016'}]}] : [];
  makePanel(2, col, ds, xLog(true, 4),
    {type: 'logarithmic', min: 10 ** C_LIM[0], max: 10 ** C_LIM[1], pos: 'left', labels: col === 0, pad: 5, size: 12,
     ticks: concExp.map(e => 10 ** e), fmt: pow10Label},
    cTicks, legends, texts);
});
</script>
</body>
</html>
